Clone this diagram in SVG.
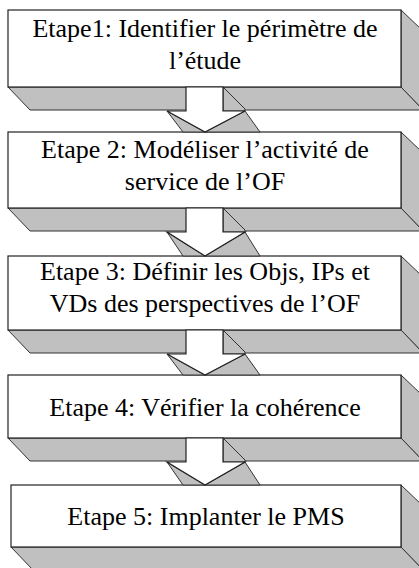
<svg xmlns="http://www.w3.org/2000/svg" width="419" height="568" viewBox="0 0 419 568">
<style>
.side{fill:#c0c0c0;stroke:#333;stroke-width:1;stroke-linejoin:miter}
.front{fill:#fff;stroke:#222;stroke-width:1.2}
.lbl{font-family:"Liberation Serif","Times New Roman",serif;font-size:26px;fill:#000;text-anchor:middle}
</style>
<rect width="419" height="568" fill="#fff"/>
<g id="step1">
<polygon class="side" points="401,10 423,31 423,110 401,87"/>
<polygon class="side" points="8,87 401,87 423,110 30,110"/>
<rect class="front" x="8" y="10" width="393" height="77"/>
<text class="lbl" x="205" y="37">Etape1: Identifier le périmètre de</text>
<text class="lbl" x="205" y="69">l’étude</text>
</g>
<g id="step2">
<polygon class="side" points="401,132 423,153 423,231 401,208"/>
<polygon class="side" points="8,208 401,208 423,231 30,231"/>
<rect class="front" x="8" y="132" width="393" height="76"/>
<text class="lbl" x="205" y="158">Etape 2: Modéliser l’activité de</text>
<text class="lbl" x="205" y="190">service de l’OF</text>
</g>
<g id="step3">
<polygon class="side" points="401,256 423,277 423,353 401,330"/>
<polygon class="side" points="8,330 401,330 423,353 30,353"/>
<rect class="front" x="8" y="256" width="393" height="74"/>
<text class="lbl" x="205" y="280">Etape 3: Définir les Objs, IPs et</text>
<text class="lbl" x="205" y="312">VDs des perspectives de l’OF</text>
</g>
<g id="step4">
<polygon class="side" points="401,375 423,396 423,461 401,438"/>
<polygon class="side" points="8,438 401,438 423,461 30,461"/>
<rect class="front" x="8" y="375" width="393" height="63"/>
<text class="lbl" x="205" y="416">Etape 4: Vérifier la cohérence</text>
</g>
<g id="step5">
<polygon class="side" points="401,485 423,506 423,570 401,547"/>
<polygon class="side" points="11,547 401,547 423,570 33,570"/>
<rect class="front" x="11" y="485" width="390" height="62"/>
<text class="lbl" x="206" y="525">Etape 5: Implanter le PMS</text>
</g>
<g id="connectors">
<g id="arrow1">
<polygon class="side" points="223,87 245,109 245,111 223,111"/>
<polygon class="side" points="245,111 260,132 205,132"/>
<polygon class="side" points="167,111 183,132 205,132"/>
<polygon class="front" points="186,87 223,87 223,111 245,111 205,132 167,111 186,111"/>
</g>
<g id="arrow2">
<polygon class="side" points="223,208 245,230 245,232 223,232"/>
<polygon class="side" points="245,232 260,256 205,256"/>
<polygon class="side" points="167,232 183,256 205,256"/>
<polygon class="front" points="186,208 223,208 223,232 245,232 205,256 167,232 186,232"/>
</g>
<g id="arrow3">
<polygon class="side" points="223,330 245,352 245,354 223,354"/>
<polygon class="side" points="245,354 260,375 205,375"/>
<polygon class="side" points="167,354 183,375 205,375"/>
<polygon class="front" points="186,330 223,330 223,354 245,354 205,375 167,354 186,354"/>
</g>
<g id="arrow4">
<polygon class="side" points="223,438 245,460 245,462 223,462"/>
<polygon class="side" points="245,462 260,485 205,485"/>
<polygon class="side" points="167,462 183,485 205,485"/>
<polygon class="front" points="186,438 223,438 223,462 245,462 205,485 167,462 186,462"/>
</g>
</g>
</svg>
